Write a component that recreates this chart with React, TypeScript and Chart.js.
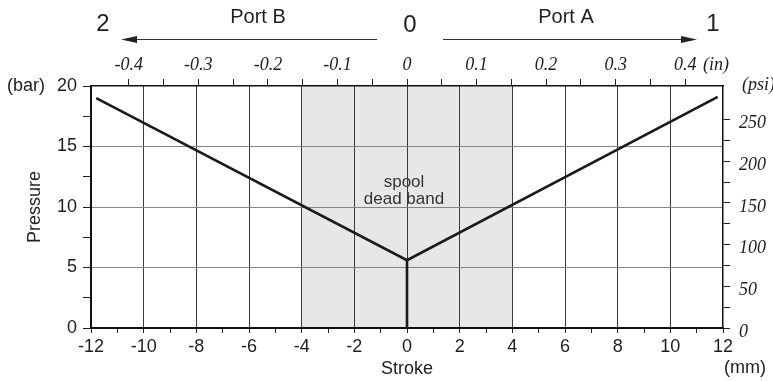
import React, { useEffect, useRef } from "react";
import { Chart, registerables } from "chart.js";

Chart.register(...registerables);

// ---- data ----
const strokeMm = [-11.8, 0, 11.8];
const pressureBar = [19.0, 5.6, 19.1];
const stemStrokeMm = [0, 0];
const stemPressureBar = [5.6, 0];
const deadBandMm = [-4, 4];
const strokeRangeMm = [-12, 12];
const pressureRangeBar = [0, 20];
const inchRange = [-0.4543, 0.4543];
const PSI_PER_BAR = 14.5038;
const strokeStep = 1;
const strokeLabelStep = 2;
const barStep = 2.5;
const barLabelStep = 5;
const psiStep = 25;
const psiLabelStep = 50;
const inchStep = 0.05;
const barGridValues = [5, 10, 15];

const SANS = '"Liberation Sans", Arial, Helvetica, sans-serif';
const SERIF = '"Liberation Serif", "Times New Roman", serif';
const TRANSPARENT = "rgba(0,0,0,0)";

const isMultiple = (v: number, step: number) =>
  Math.abs(v / step - Math.round(v / step)) < 1e-6;

const bandPlugin = {
  id: "deadBand",
  beforeDraw(chart: any) {
    const { ctx, chartArea, scales } = chart;
    const x0 = scales.x.getPixelForValue(deadBandMm[0]);
    const x1 = scales.x.getPixelForValue(deadBandMm[1]);
    ctx.save();
    ctx.fillStyle = "#e6e7e8";
    ctx.fillRect(x0, chartArea.top, x1 - x0, chartArea.bottom - chartArea.top);
    ctx.restore();
  },
};

function arrow(ctx: CanvasRenderingContext2D, xFrom: number, xTo: number, y: number) {
  const dir = xTo > xFrom ? 1 : -1;
  ctx.beginPath();
  ctx.moveTo(xFrom, y);
  ctx.lineTo(xTo - dir * 10, y);
  ctx.strokeStyle = "#333";
  ctx.lineWidth = 1.2;
  ctx.stroke();
  ctx.beginPath();
  ctx.moveTo(xTo, y);
  ctx.lineTo(xTo - dir * 16, y - 3.5);
  ctx.lineTo(xTo - dir * 16, y + 3.5);
  ctx.closePath();
  ctx.fillStyle = "#222";
  ctx.fill();
}

const textPlugin = {
  id: "texts",
  afterDraw(chart: any) {
    const { ctx, scales } = chart;
    ctx.save();
    ctx.fillStyle = "#1e1e1e";
    ctx.textAlign = "center";
    ctx.textBaseline = "middle";

    ctx.font = `24px ${SANS}`;
    ctx.fillText("2", 103, 24);
    ctx.fillText("0", 410, 25);
    ctx.fillText("1", 713, 24);

    ctx.font = `20px ${SANS}`;
    ctx.fillText("Port B", 258, 17);
    ctx.fillText("Port A", 566, 17);

    arrow(ctx, 377, 121, 39.5);
    arrow(ctx, 443, 697, 39.5);

    ctx.font = `18px ${SANS}`;
    ctx.textAlign = "left";
    ctx.fillText("(bar)", 7, 86);
    ctx.textAlign = "center";
    ctx.fillText("Stroke", 407, 369);
    ctx.fillText("(mm)", 745, 368);

    ctx.save();
    ctx.translate(35, 207);
    ctx.rotate(-Math.PI / 2);
    ctx.fillText("Pressure", 0, 0);
    ctx.restore();

    ctx.font = `italic 18px ${SERIF}`;
    ctx.textAlign = "left";
    ctx.fillText("(in)", 703, 65);
    ctx.fillText("(psi)", 742, 85);

    ctx.fillStyle = "#333";
    ctx.textAlign = "center";
    ctx.font = `17px ${SANS}`;
    const cx = scales.x.getPixelForValue(0) - 3;
    ctx.fillText("spool", cx, 182);
    ctx.fillText("dead band", cx, 199);
    ctx.restore();
  },
};

export default function App() {
  const ref = useRef<HTMLCanvasElement | null>(null);

  useEffect(() => {
    if (!ref.current) return;
    const chart = new Chart(ref.current, {
      type: "line",
      data: {
        datasets: [
          {
            data: strokeMm.map((x, i) => ({ x, y: pressureBar[i] })),
            borderColor: "#1a1a1a",
            borderWidth: 2.6,
            pointRadius: 0,
            tension: 0,
            xAxisID: "x",
            yAxisID: "y",
          },
          {
            data: stemStrokeMm.map((x, i) => ({ x, y: stemPressureBar[i] })),
            borderColor: "#1a1a1a",
            borderWidth: 2.6,
            pointRadius: 0,
            tension: 0,
            xAxisID: "x",
            yAxisID: "y",
          },
        ],
      },
      options: {
        animation: false,
        responsive: false,
        devicePixelRatio: 1,
        layout: { padding: 0 },
        plugins: { legend: { display: false }, tooltip: { enabled: false } },
        scales: {
          x: {
            type: "linear",
            position: "bottom",
            min: strokeRangeMm[0],
            max: strokeRangeMm[1],
            afterFit: (s: any) => {
              s.height = 53;
            },
            ticks: {
              stepSize: strokeStep,
              autoSkip: false,
              maxRotation: 0,
              padding: 3,
              color: "#1e1e1e",
              font: { family: SANS, size: 18 },
              callback: (v: any) => (isMultiple(Number(v), strokeLabelStep) ? String(v) : ""),
            },
            grid: {
              color: (c: any) =>
                c.tick && isMultiple(c.tick.value, strokeLabelStep) && Math.abs(c.tick.value) !== 12
                  ? "#3c3c3c"
                  : TRANSPARENT,
              tickColor: "#222",
              tickLength: 5,
              lineWidth: 1,
            },
            border: { display: true, color: "#111", width: 2 },
          },
          x2: {
            type: "linear",
            position: "top",
            min: inchRange[0],
            max: inchRange[1],
            afterFit: (s: any) => {
              s.height = 86;
            },
            afterBuildTicks: (s: any) => {
              s.ticks = s.ticks.filter((t: any) => isMultiple(t.value, inchStep));
            },
            ticks: {
              stepSize: inchStep,
              autoSkip: false,
              maxRotation: 0,
              padding: 3,
              color: "#1e1e1e",
              font: { family: SERIF, size: 18, style: "italic" },
              callback: (v: any) => {
                const r = Math.round(Number(v) * 100);
                return r % 10 === 0 ? String(r / 100) : "";
              },
            },
            grid: { drawOnChartArea: false, tickColor: "#222", tickLength: 7 },
            border: { display: true, color: "#111", width: 1.5 },
          },
          y: {
            type: "linear",
            position: "left",
            min: pressureRangeBar[0],
            max: pressureRangeBar[1],
            afterFit: (s: any) => {
              s.width = 91;
            },
            ticks: {
              stepSize: barStep,
              autoSkip: false,
              padding: 6,
              color: "#1e1e1e",
              font: { family: SANS, size: 18 },
              callback: (v: any) => (isMultiple(Number(v), barLabelStep) ? String(v) : ""),
            },
            grid: {
              color: (c: any) =>
                c.tick && barGridValues.includes(c.tick.value) ? "#858585" : TRANSPARENT,
              tickColor: "#222",
              tickLength: 8,
              lineWidth: 1,
            },
            border: { display: true, color: "#111", width: 2 },
          },
          y2: {
            type: "linear",
            position: "right",
            min: pressureRangeBar[0] * PSI_PER_BAR,
            max: pressureRangeBar[1] * PSI_PER_BAR,
            afterFit: (s: any) => {
              s.width = 50;
            },
            afterBuildTicks: (s: any) => {
              s.ticks = s.ticks.filter((t: any) => isMultiple(t.value, psiStep));
            },
            ticks: {
              stepSize: psiStep,
              autoSkip: false,
              padding: 9,
              labelOffset: 4,
              color: "#1e1e1e",
              font: { family: SERIF, size: 18, style: "italic" },
              callback: (v: any) => (isMultiple(Number(v), psiLabelStep) ? String(v) : ""),
            },
            grid: { drawOnChartArea: false, tickColor: "#222", tickLength: 7 },
            border: { display: true, color: "#111", width: 1.5 },
          },
        },
      } as any,
      plugins: [bandPlugin, textPlugin],
    });
    return () => chart.destroy();
  }, []);

  return (
    <div style={{ position: "absolute", left: 0, top: 0, width: 773, height: 381, background: "#fff" }}>
      <canvas ref={ref} width={773} height={381} style={{ display: "block" }} />
    </div>
  );
}
